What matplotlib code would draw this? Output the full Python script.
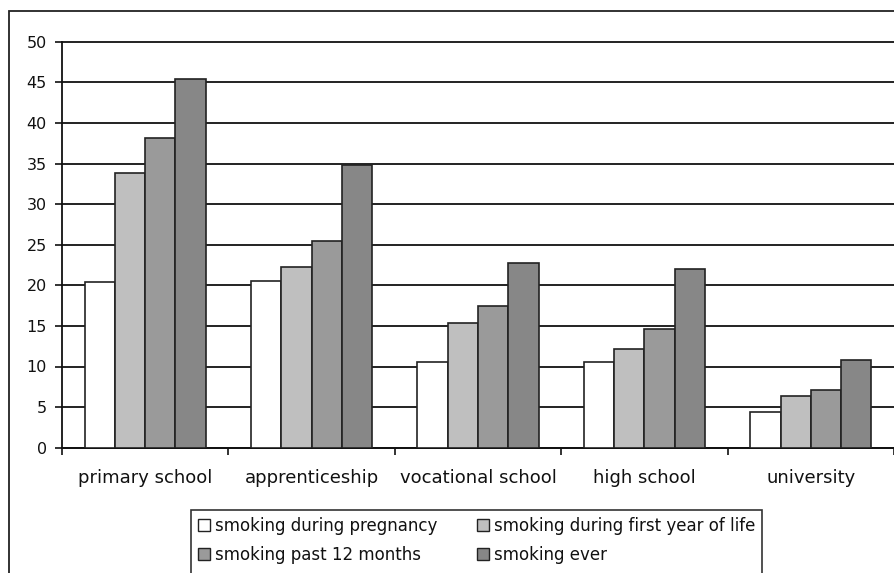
import numpy as np
import matplotlib
matplotlib.use('Agg')
import matplotlib.pyplot as plt
from matplotlib.patches import Patch, Rectangle

plt.rcParams['font.family'] = ['DejaVu Sans']

categories = ['primary school', 'apprenticeship', 'vocational school', 'high school', 'university']
series_names = ['smoking during pregnancy', 'smoking during first year of life',
                'smoking past 12 months', 'smoking ever']
pregnancy = [20.4, 20.5, 10.5, 10.5, 4.4]
first_year = [33.8, 22.2, 15.3, 12.2, 6.4]
past_12 = [38.1, 25.4, 17.4, 14.6, 7.1]
ever = [45.4, 34.8, 22.8, 22.0, 10.8]
colors = ['#ffffff', '#bfbfbf', '#9a9a9a', '#878787']

series = [pregnancy, first_year, past_12, ever]

fig = plt.figure(figsize=(8.94, 5.73), dpi=100)
ax = fig.add_axes([62 / 894, (573 - 447.7) / 573, (894 - 62) / 894, (447.7 - 41.7) / 573])

x = np.arange(len(categories))
w = 1 / 5.5
for i, (vals, c) in enumerate(zip(series, colors)):
    ax.bar(x + (i - 1.5) * w, vals, width=w, color=c, edgecolor='#222222',
           linewidth=1.2, zorder=3, label=series_names[i])

ax.set_ylim(0, 50)
ax.set_xlim(-0.5, len(categories) - 0.5)
ax.set_yticks(np.arange(0, 51, 5))
ax.yaxis.grid(True, color='#111111', linewidth=1.3, zorder=0)
for gl in ax.get_ygridlines():
    gl.set_clip_on(False)
ax.set_axisbelow(True)
for s in ['top', 'right']:
    ax.spines[s].set_visible(False)
for s in ['left', 'bottom']:
    ax.spines[s].set_color('#111111')
    ax.spines[s].set_linewidth(1.3)
ax.tick_params(axis='y', length=5, width=1.2, labelsize=11.5, pad=6, colors='#111111')
ax.set_xticks(np.arange(-0.5, len(categories), 1))
ax.set_xticklabels([])
ax.tick_params(axis='x', which='major', length=5, width=1.2, colors='#111111')
ax.set_xticks(x, minor=True)
ax.set_xticklabels(categories, minor=True)
ax.tick_params(axis='x', which='minor', length=0, labelsize=13, pad=15, labelcolor='#111111')

# outer chart border
fig.patches.append(Rectangle((9 / 894, -0.1), 1.2, (573 - 11) / 573 + 0.1,
                             transform=fig.transFigure, fill=False,
                             edgecolor='#222222', linewidth=1.3))

# legend box runs past the bottom edge, as in the original
fig.patches.append(Rectangle((191 / 894, -0.1), (762 - 191) / 894, (573 - 510) / 573 + 0.1,
                             transform=fig.transFigure, fill=False,
                             edgecolor='#333333', linewidth=1.2))

# legend filled row by row, as in the original
order = [0, 2, 1, 3]
handles = [Patch(facecolor=colors[k], edgecolor='#222222', linewidth=1.0) for k in order]
labels = [series_names[k] for k in order]
leg = fig.legend(handles, labels, ncol=2, loc='upper left',
                 bbox_to_anchor=(191 / 894, (573 - 510) / 573),
                 borderaxespad=0, frameon=False, fontsize=12,
                 handlelength=0.72, handleheight=0.72,
                 handletextpad=0.3, labelspacing=0.65, borderpad=0.4, columnspacing=2.4)
for t in leg.get_texts():
    t.set_color('#111111')

fig.savefig('out.png', dpi=100)
